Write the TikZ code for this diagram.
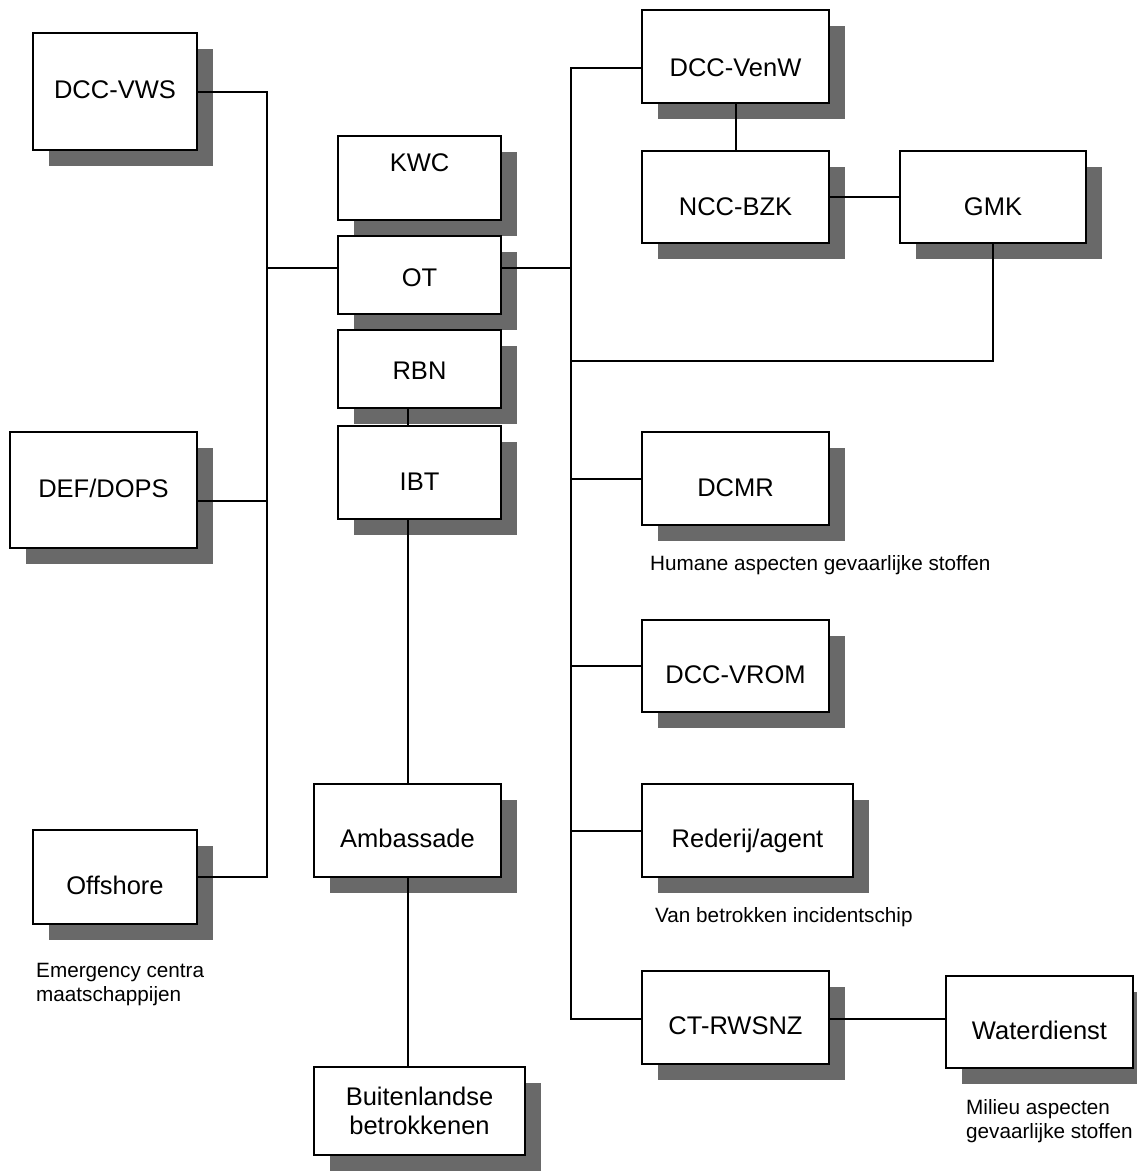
\documentclass[tikz,border=0pt]{standalone}
\usepackage{fontspec}
\setmainfont{Liberation Sans}
\usetikzlibrary{shadows}
\definecolor{sh}{RGB}{105,105,105}
\tikzset{
 boxst/.style={draw=black, line width=2pt, fill=white, inner sep=0pt,
   text height=18.3pt, text depth=0pt, font=\fontsize{25.5}{29}\selectfont,
   drop shadow={shadow xshift=15.5pt, shadow yshift=-15.5pt, fill=sh, opacity=1}},
 conn/.style={line width=2pt},
 note/.style={inner sep=0pt, font=\fontsize{20.7}{24}\selectfont, align=left}
}
\newcommand\bx[7]{\node[boxst, minimum width={(#4-#2)*1pt}, minimum height={(#5-#3)*1pt}] (#1) at ({(#2+#4)/2},{(#3+#5)/2}) {\raisebox{#6pt}{#7}};}
\begin{document}
\begin{tikzpicture}[x=1pt,y=-1pt]
\useasboundingbox (0,0) rectangle (1137,1171);
% left column
\bx{vws}{33}{33}{197}{150}{2}{DCC-VWS}
\bx{def}{10}{432}{197}{548}{2}{DEF/DOPS}
\bx{off}{33}{830}{197}{924}{-8}{Offshore}
% centre stack
\bx{kwc}{338}{136}{501}{220}{16}{KWC}
\bx{ot}{338}{236}{501}{314}{-2}{OT}
\bx{rbn}{338}{330}{501}{408}{-1}{RBN}
\bx{ibt}{338}{426}{501}{519}{-9}{IBT}
\bx{amb}{314}{784}{501}{877}{-8}{Ambassade}
\node[boxst, text height={}, text depth={}, align=center, minimum width=211pt, minimum height=88pt] (bui) at (419.5,1111) {Buitenlandse\\betrokkenen};
% right column
\bx{venw}{642}{10}{829}{103}{-11}{DCC-VenW}
\bx{bzk}{642}{151}{829}{243}{-9}{NCC-BZK}
\bx{gmk}{900}{151}{1086}{243}{-9}{GMK}
\bx{dcmr}{642}{432}{829}{525}{-9}{DCMR}
\bx{vrom}{642}{620}{829}{712}{-8}{DCC-VROM}
\bx{red}{642}{784}{853}{877}{-8}{Rederij/agent}
\bx{ct}{642}{971}{829}{1064}{-8}{CT-RWSNZ}
\bx{wat}{946}{976}{1133}{1068}{-8}{Waterdienst}
% notes
\node[note, anchor=base west] (n1) at (650,570.5) {Humane aspecten gevaarlijke stoffen};
\node[note, anchor=base west] (n2) at (655,922.5) {Van betrokken incidentschip};
\node[note, anchor=north west] (n3) at (36,962.7) {Emergency centra\\maatschappijen};
\node[note, anchor=north west] (n4) at (966,1099.7) {Milieu aspecten\\gevaarlijke stoffen};
% junctions
\coordinate (lj) at (267,268);
\coordinate (rj) at (571,268);
\coordinate (rg) at (571,361);
% connectors
\draw[conn] (vws.east) -| (lj);
\draw[conn] ([yshift=-11pt]def.east) -| (lj);
\draw[conn] (off.east) -| (lj);
\draw[conn] (lj) -- (lj -| ot.west);
\draw[conn] (rj -| ot.east) -- (rj);
\draw[conn] ([yshift=-11.5pt]venw.west) -| (rj);
\draw[conn] (gmk.south) |- (rg);
\draw[conn] (dcmr.west) -| (rj);
\draw[conn] (vrom.west) -| (rj);
\draw[conn] (red.west) -| (rj);
\draw[conn] ([yshift=-1.5pt]ct.west) -| (rj);
\draw[conn] (venw.south) -- (bzk.north);
\draw[conn] (bzk.east) -- (gmk.west);
\draw[conn] ([yshift=-1.5pt]ct.east) -- ([yshift=-1.5pt]ct.east -| wat.west);
\draw[conn] (amb.north |- rbn.south) -- (amb.north |- ibt.north);
\draw[conn] (amb.north |- ibt.south) -- (amb.north);
\draw[conn] (amb.south) -- (amb.south |- bui.north);
\end{tikzpicture}
\end{document}
